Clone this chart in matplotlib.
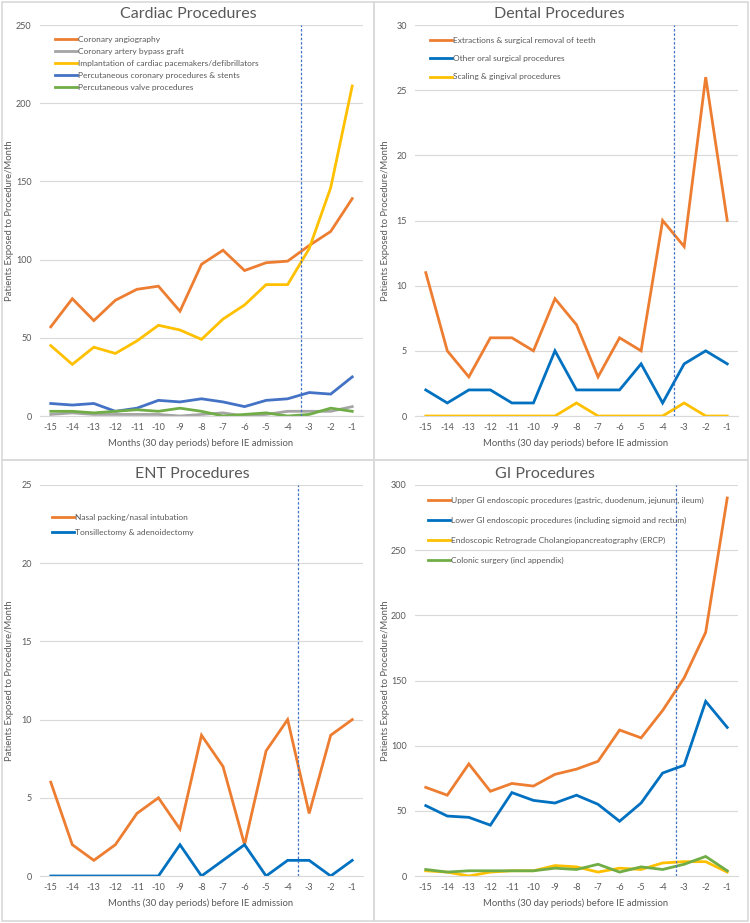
import numpy as np
import matplotlib
matplotlib.use("Agg")
import matplotlib.pyplot as plt
from matplotlib.patches import Rectangle

plt.rcParams['font.family'] = ['Lato', 'DejaVu Sans']

months = [-15, -14, -13, -12, -11, -10, -9, -8, -7, -6, -5, -4, -3, -2, -1]
month_labels = [str(m) for m in months]

# Cardiac
cardiac_names = ["Coronary angiography",
                 "Coronary artery bypass graft",
                 "Implantation of cardiac pacemakers/defibrillators",
                 "Percutaneous coronary procedures & stents",
                 "Percutaneous valve procedures"]
coronary_angio = [57, 75, 61, 74, 81, 83, 67, 97, 106, 93, 98, 99, 109, 118, 139]
cabg = [1, 2, 1, 1, 1, 1, 0, 1, 2, 0, 1, 3, 3, 3, 6]
pacemakers = [45, 33, 44, 40, 48, 58, 55, 49, 62, 71, 84, 84, 107, 146, 211]
pci_stents = [8, 7, 8, 3, 5, 10, 9, 11, 9, 6, 10, 11, 15, 14, 25]
valve = [3, 3, 2, 3, 4, 3, 5, 3, 0, 1, 2, 0, 1, 5, 3]

# Dental
dental_names = ["Extractions & surgical removal of teeth",
                "Other oral surgical procedures",
                "Scaling & gingival procedures"]
extractions = [11, 5, 3, 6, 6, 5, 9, 7, 3, 6, 5, 15, 13, 26, 15]
other_oral = [2, 1, 2, 2, 1, 1, 5, 2, 2, 2, 4, 1, 4, 5, 4]
scaling = [0, 0, 0, 0, 0, 0, 0, 1, 0, 0, 0, 0, 1, 0, 0]

# ENT
ent_names = ["Nasal packing/nasal intubation",
             "Tonsillectomy & adenoidectomy"]
nasal = [6, 2, 1, 2, 4, 5, 3, 9, 7, 2, 8, 10, 4, 9, 10]
tonsil = [0, 0, 0, 0, 0, 0, 2, 0, 1, 2, 0, 1, 1, 0, 1]

# GI
gi_names = ["Upper GI endoscopic procedures (gastric, duodenum, jejunum, ileum)",
            "Lower GI endoscopic procedures (including sigmoid and rectum)",
            "Endoscopic Retrograde Cholangiopancreatography (ERCP)",
            "Colonic surgery (incl appendix)"]
upper_gi = [68, 62, 86, 65, 71, 69, 78, 82, 88, 112, 106, 127, 152, 187, 290]
lower_gi = [54, 46, 45, 39, 64, 58, 56, 62, 55, 42, 56, 79, 85, 134, 114]
ercp = [4, 3, 0, 3, 4, 4, 8, 7, 3, 6, 5, 10, 11, 11, 3]
colonic = [5, 3, 4, 4, 4, 4, 6, 5, 9, 3, 7, 5, 9, 15, 4]

ORANGE = "#ED7D31"
GRAY = "#A5A5A5"
YELLOW = "#FFC000"
BLUE = "#4472C4"
BLUE2 = "#0070C0"
GREEN = "#70AD47"
TXT = "#595959"

W, H = 750, 923
fig = plt.figure(figsize=(7.5, 9.23), dpi=100)


def px(x, y):
    return x / W, 1 - y / H


def panel(x0, y_top, y_bot, title, tx, series, names, colors, ymax, step,
          cut, leg_xy, leg_space):
    ax = fig.add_axes([x0 / W, 1 - y_bot / H, 323 / W, (y_bot - y_top) / H])
    for s, c, n in zip(series, colors, names):
        ax.plot(months, s, color=c, lw=2.0, label=n, solid_joinstyle='miter')
    ax.axvline(cut, color=BLUE, lw=0.9, ls=(0, (2, 1.5)))
    ax.set_xlim(-15.5, -0.5)
    ax.set_ylim(0, ymax)
    ax.set_yticks(np.arange(0, ymax + 1, step))
    ax.set_xticks(months)
    ax.set_xticklabels(month_labels)
    ax.grid(axis='y', color='#D9D9D9', lw=0.8)
    ax.set_axisbelow(True)
    for sp in ['top', 'right', 'left']:
        ax.spines[sp].set_visible(False)
    ax.spines['bottom'].set_color('#D9D9D9')
    ax.spines['bottom'].set_linewidth(0.8)
    ax.tick_params(length=0, labelsize=6.5, labelcolor=TXT)
    ax.tick_params(axis='y', pad=6)
    ax.tick_params(axis='x', pad=5)
    fig.text(*px(tx, y_top - 11), title, ha='center', va='center',
             fontsize=11.5, color=TXT)
    fig.text(*px(x0 - 30, (y_top + y_bot) / 2),
             "Patients Exposed to Procedure/Month", rotation=90,
             ha='center', va='center', fontsize=6.8, color=TXT)
    fig.text(*px(x0 + 161, y_bot + 27),
             "Months (30 day periods) before IE admission",
             ha='center', va='center', fontsize=6.8, color=TXT)
    ax.legend(loc='upper left', bbox_to_anchor=px(*leg_xy),
              bbox_transform=fig.transFigure, frameon=False, fontsize=6,
              handlelength=2.6, handletextpad=0.15, borderpad=0,
              borderaxespad=0, labelspacing=leg_space, labelcolor=TXT)
    return ax


panel(40, 25, 416, "Cardiac Procedures", 188,
      [coronary_angio, cabg, pacemakers, pci_stents, valve], cardiac_names,
      [ORANGE, GRAY, YELLOW, BLUE, GREEN], 250, 50, -3.4, (55, 36), 0.6)
panel(415, 25, 416, "Dental Procedures", 559,
      [extractions, other_oral, scaling], dental_names,
      [ORANGE, BLUE2, YELLOW], 30, 5, -3.45, (430, 37), 1.35)
panel(40, 485, 876, "ENT Procedures", 192,
      [nasal, tonsil], ent_names,
      [ORANGE, BLUE2], 25, 5, -3.5, (52, 514), 0.9)
panel(415, 485, 876, "GI Procedures", 545,
      [upper_gi, lower_gi, ercp, colonic], gi_names,
      [ORANGE, BLUE2, YELLOW, GREEN], 300, 50, -3.4, (428, 497), 1.55)

# chart borders
for (bx, by, bw, bh) in [(2, 2, 372, 458), (374, 2, 374, 458),
                         (2, 460, 372, 461), (374, 460, 374, 461)]:
    fig.add_artist(Rectangle((bx / W, 1 - (by + bh) / H), bw / W, bh / H,
                             transform=fig.transFigure, fill=False,
                             edgecolor='#D9D9D9', lw=1.2))

fig.savefig("out.png", dpi=100)
